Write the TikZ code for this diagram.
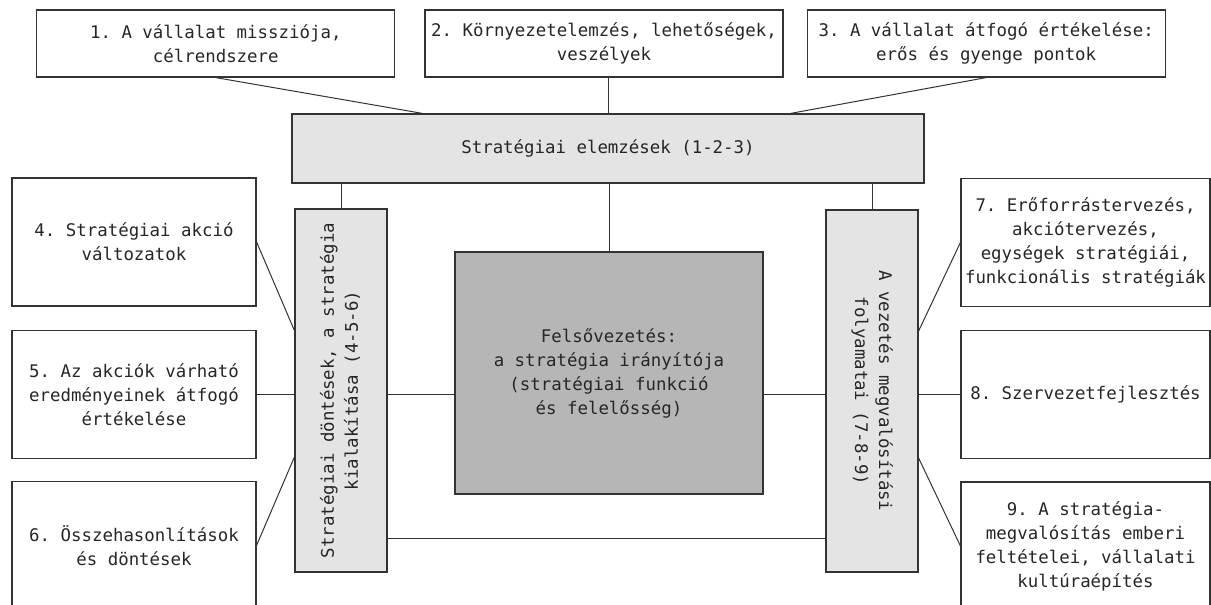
\documentclass[tikz,border=0pt]{standalone}
\usepackage{fontspec}
\setmonofont{DejaVu Sans Mono}
\usetikzlibrary{positioning}

\definecolor{ink}{HTML}{333333}
\definecolor{paper}{HTML}{E4E4E4}
\definecolor{shade}{HTML}{B6B6B6}
\newcommand{\boxfont}{\ttfamily\fontsize{17.4}{24}\selectfont}
\newcommand{\turned}[2]{\rotatebox{#1}{\begin{tabular}{@{}c@{}}#2\end{tabular}}}

\begin{document}
\begin{tikzpicture}%
  [x=1pt,y=-1pt,
   every node/.style={font=\boxfont,text=black!85,inner sep=0pt,align=center},
   topic/.style=
    {draw=ink,line width=1.2pt,minimum width=358pt,minimum height=67pt},
   side/.style=
    {draw=ink,line width=1.2pt,minimum width=244pt,minimum height=128pt},
   panel/.style=
    {draw=ink,fill=paper,line width=1.2pt},
   core/.style=
    {draw=ink,fill=shade,line width=1.2pt,minimum width=308pt,minimum height=242pt},
   link/.style={draw=ink,line width=1pt}
  ]
  \useasboundingbox (0,0) rectangle (1211,605);
  \clip (0,0) rectangle (1211,605);

  % top row
  \node[topic] (b2) at (604,43.5) {2. Környezetelemzés, lehetőségek,\\veszélyek};
  \node[topic,left=29pt of b2] (b1) {1. A vállalat missziója,\\célrendszere};
  \node[topic,right=23pt of b2] (b3) {3. A vállalat átfogó értékelése:\\erős és gyenge pontok};
  \node[panel,minimum width=632pt,minimum height=69pt] (anal) at (608,148.5)
    {Stratégiai elemzések (1-2-3)};

  % middle
  \node[panel,minimum width=92pt,minimum height=363pt] (lnar) at (341,390.5)
    {\turned{90}{Stratégiai döntések, a stratégia\\kialakítása (4-5-6)}};
  \node[panel,minimum width=92pt,minimum height=362pt] (rnar) at (872,391)
    {\turned{-90}{A vezetés megvalósítási\\folyamatai (7-8-9)}};
  \node[core] (top) at (609,373) {Felsővezetés:\\a stratégia irányítója\\(stratégiai funkció\\és felelősség)};

  % left column
  \node[side] (b4) at (134,242) {4. Stratégiai akció\\változatok};
  \node[side,below=23pt of b4] (b5) {5. Az akciók várható\\eredményeinek átfogó\\értékelése};
  \node[side,below=22pt of b5] (b6) {6. Összehasonlítások\\és döntések};

  % right column
  \node[side,minimum width=249pt] (b7) at (1085.5,242.5) {7. Erőforrástervezés,\\akciótervezés,\\egységek stratégiái,\\funkcionális stratégiák};
  \node[side,minimum width=249pt,below=23pt of b7] (b8) {8. Szervezetfejlesztés};
  \node[side,minimum width=249pt,below=22pt of b8] (b9) {9. A stratégia-\\megvalósítás emberi\\feltételei, vállalati\\kultúraépítés};

  \draw[link] (b1.south) -- ([xshift=131pt]anal.north west);
  \draw[link] (anal.north) -- (anal.north |- b2.south);
  \draw[link] (b3.south) -- ([xshift=-134pt]anal.north east);
  \draw[link] (lnar.north) -- (lnar.north |- anal.south);
  \draw[link] (rnar.north) -- (rnar.north |- anal.south);
  \draw[link] (top.north) -- (top.north |- anal.south);

  \draw[link] (b4.east) -- ([yshift=60pt]lnar.west);
  \draw[link] (b5.east) -- (b5.east -| lnar.west);
  \draw[link] (b6.east) -- ([yshift=-66.5pt]lnar.west);
  \draw[link] (lnar.east |- b5.east) -- (top.west |- b5.east);
  \draw[link] (top.east |- b8.west) -- (rnar.west |- b8.west);
  \draw[link] ([yshift=-147.5pt]lnar.east) -- ([yshift=-147pt]rnar.west);

  \draw[link] ([yshift=60pt]rnar.east) -- (b7.west);
  \draw[link] (rnar.east |- b8.west) -- (b8.west);
  \draw[link] ([yshift=-67pt]rnar.east) -- (b9.west);

\end{tikzpicture}
\end{document}
